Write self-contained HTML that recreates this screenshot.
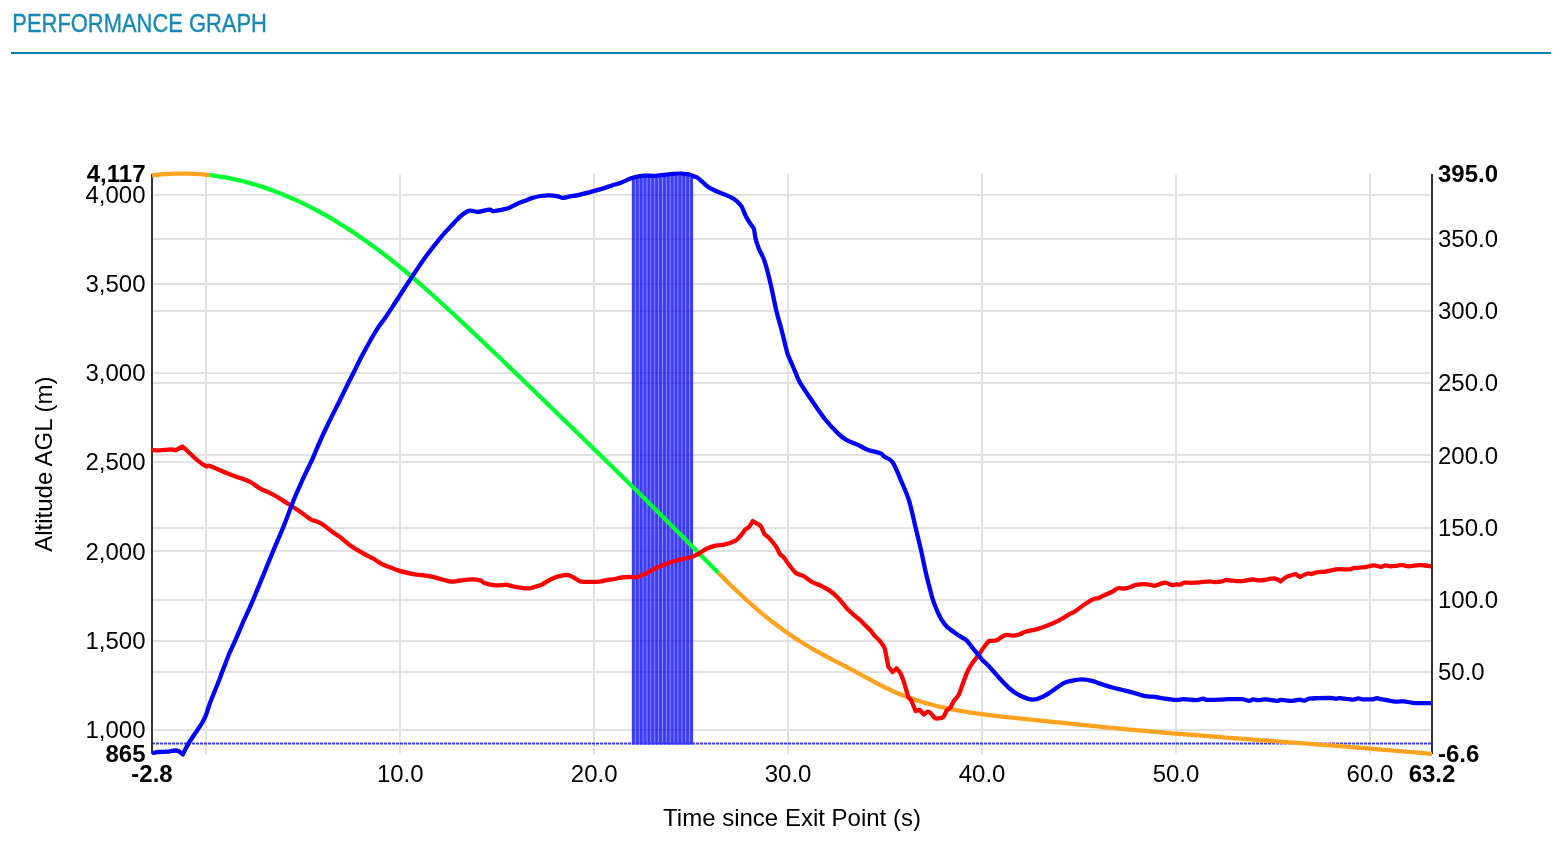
<!DOCTYPE html>
<html><head><meta charset="utf-8"><title>Performance Graph</title>
<style>
html,body{margin:0;padding:0;background:#fff;}
body{width:1566px;height:846px;overflow:hidden;position:relative;font-family:"Liberation Sans",sans-serif;}
svg{position:absolute;left:0;top:0;will-change:transform;}
text{font-family:"Liberation Sans",sans-serif;}
</style></head><body>
<svg width="1566" height="846" viewBox="0 0 1566 846">

<text x="12.3" y="31.7" font-size="25" fill="#1889b4" stroke="#1889b4" stroke-width="0.35" textLength="254.6" lengthAdjust="spacingAndGlyphs">PERFORMANCE GRAPH</text>
<rect x="11" y="52" width="1540" height="2" fill="#0a80ac"/>
<rect x="153" y="194" width="1279" height="2" fill="#e2e2e2"/>
<rect x="153" y="283" width="1279" height="2" fill="#e2e2e2"/>
<rect x="153" y="372" width="1279" height="2" fill="#e2e2e2"/>
<rect x="153" y="461" width="1279" height="2" fill="#e2e2e2"/>
<rect x="153" y="550" width="1279" height="2" fill="#e2e2e2"/>
<rect x="153" y="640" width="1279" height="2" fill="#e2e2e2"/>
<rect x="153" y="729" width="1279" height="2" fill="#e2e2e2"/>
<rect x="152" y="238" width="1280" height="2" fill="#e2e2e2"/>
<rect x="152" y="310" width="1280" height="2" fill="#e2e2e2"/>
<rect x="152" y="382" width="1280" height="2" fill="#e2e2e2"/>
<rect x="152" y="454" width="1280" height="2" fill="#e2e2e2"/>
<rect x="152" y="527" width="1280" height="2" fill="#e2e2e2"/>
<rect x="152" y="599" width="1280" height="2" fill="#e2e2e2"/>
<rect x="152" y="671" width="1280" height="2" fill="#e2e2e2"/>
<rect x="205" y="174" width="2" height="580" fill="#e2e2e2"/>
<rect x="399" y="174" width="2" height="580" fill="#e2e2e2"/>
<rect x="593" y="174" width="2" height="580" fill="#e2e2e2"/>
<rect x="787" y="174" width="2" height="580" fill="#e2e2e2"/>
<rect x="981" y="174" width="2" height="580" fill="#e2e2e2"/>
<rect x="1175" y="174" width="2" height="580" fill="#e2e2e2"/>
<rect x="1369" y="174" width="2" height="580" fill="#e2e2e2"/>
<rect x="631.85" y="176" width="61.2" height="568.5" fill="#0000ff" fill-opacity="0.41"/>
<rect x="631.85" y="176" width="3" height="568.5" fill="#0000ff" fill-opacity="0.6"/>
<rect x="635.73" y="176" width="3" height="568.5" fill="#0000ff" fill-opacity="0.6"/>
<rect x="639.61" y="176" width="3" height="568.5" fill="#0000ff" fill-opacity="0.6"/>
<rect x="643.49" y="176" width="3" height="568.5" fill="#0000ff" fill-opacity="0.6"/>
<rect x="647.37" y="176" width="3" height="568.5" fill="#0000ff" fill-opacity="0.6"/>
<rect x="651.25" y="176" width="3" height="568.5" fill="#0000ff" fill-opacity="0.6"/>
<rect x="655.13" y="176" width="3" height="568.5" fill="#0000ff" fill-opacity="0.6"/>
<rect x="659.01" y="176" width="3" height="568.5" fill="#0000ff" fill-opacity="0.6"/>
<rect x="662.89" y="176" width="3" height="568.5" fill="#0000ff" fill-opacity="0.6"/>
<rect x="666.77" y="176" width="3" height="568.5" fill="#0000ff" fill-opacity="0.6"/>
<rect x="670.65" y="176" width="3" height="568.5" fill="#0000ff" fill-opacity="0.6"/>
<rect x="674.53" y="176" width="3" height="568.5" fill="#0000ff" fill-opacity="0.6"/>
<rect x="678.41" y="176" width="3" height="568.5" fill="#0000ff" fill-opacity="0.6"/>
<rect x="682.29" y="176" width="3" height="568.5" fill="#0000ff" fill-opacity="0.6"/>
<rect x="686.17" y="176" width="3" height="568.5" fill="#0000ff" fill-opacity="0.6"/>
<rect x="690.05" y="176" width="3" height="568.5" fill="#0000ff" fill-opacity="0.6"/>
<line x1="152" y1="743.6" x2="1432" y2="743.6" stroke="#3a3aff" stroke-width="2" stroke-dasharray="3 1"/>
<rect x="151" y="174" width="2" height="580" fill="#333"/>
<rect x="1431" y="174" width="2" height="580" fill="#333"/>
<path d="M152,175.44 C153,175.32 156,174.95 158,174.75 C160,174.55 162,174.36 164,174.21 C166,174.06 168,173.93 170,173.83 C172,173.73 174,173.65 176,173.6 C178,173.55 180,173.53 182,173.53 C184,173.53 186,173.56 188,173.61 C190,173.66 192,173.74 194,173.84 C196,173.94 198,174.07 200,174.22 C202,174.37 204.37,174.59 206,174.75 C207.63,174.91 209.17,175.11 209.8,175.18" fill="none" stroke="#ffa21f" stroke-width="4.3" stroke-linejoin="round"/>
<path d="M209.8,175.18 C210.17,175.22 210.63,175.25 212,175.43 C213.37,175.61 216,175.96 218,176.26 C220,176.56 222,176.88 224,177.23 C226,177.58 228,177.95 230,178.35 C232,178.75 234,179.17 236,179.62 C238,180.07 240,180.53 242,181.03 C244,181.53 246,182.05 248,182.59 C250,183.13 252,183.7 254,184.29 C256,184.88 258,185.49 260,186.13 C262,186.77 264,187.43 266,188.11 C268,188.79 270,189.5 272,190.23 C274,190.96 276,191.71 278,192.49 C280,193.27 282,194.07 284,194.89 C286,195.71 288,196.56 290,197.43 C292,198.3 294,199.19 296,200.1 C298,201.01 300,201.95 302,202.91 C304,203.87 306,204.85 308,205.85 C310,206.85 312,207.88 314,208.93 C316,209.98 318,211.05 320,212.14 C322,213.23 324,214.34 326,215.48 C328,216.62 330,217.78 332,218.96 C334,220.14 336,221.34 338,222.56 C340,223.78 342,225.02 344,226.29 C346,227.56 348,228.84 350,230.15 C352,231.46 354,232.78 356,234.13 C358,235.48 360,236.84 362,238.23 C364,239.62 366,241.02 368,242.45 C370,243.88 372,245.32 374,246.79 C376,248.26 378,249.74 380,251.25 C382,252.76 384,254.29 386,255.83 C388,257.37 390,258.93 392,260.51 C394,262.09 396,263.69 398,265.31 C400,266.93 402,268.57 404,270.22 C406,271.88 408,273.55 410,275.24 C412,276.93 414,278.64 416,280.37 C418,282.1 420,283.83 422,285.59 C424,287.34 426,289.12 428,290.9 C430,292.68 432,294.48 434,296.28 C436,298.08 438,299.9 440,301.72 C442,303.54 444,305.38 446,307.22 C448,309.06 450,310.91 452,312.76 C454,314.61 456,316.47 458,318.33 C460,320.19 462,322.06 464,323.93 C466,325.8 468,327.68 470,329.56 C472,331.44 474,333.32 476,335.21 C478,337.1 480,338.99 482,340.89 C484,342.79 486,344.68 488,346.59 C490,348.5 492,350.41 494,352.32 C496,354.23 498,356.14 500,358.06 C502,359.98 504,361.89 506,363.81 C508,365.73 510,367.65 512,369.58 C514,371.51 516,373.44 518,375.37 C520,377.3 522,379.23 524,381.16 C526,383.09 528,385.02 530,386.96 C532,388.89 534,390.83 536,392.77 C538,394.71 540,396.64 542,398.58 C544,400.52 546,402.46 548,404.4 C550,406.34 552,408.27 554,410.21 C556,412.15 558,414.08 560,416.02 C562,417.96 564,419.9 566,421.84 C568,423.78 570,425.71 572,427.65 C574,429.59 576,431.53 578,433.47 C580,435.41 582,437.36 584,439.3 C586,441.24 588,443.19 590,445.13 C592,447.07 594,449.01 596,450.96 C598,452.9 600,454.85 602,456.8 C604,458.75 606,460.71 608,462.66 C610,464.61 612,466.56 614,468.52 C616,470.47 618,472.43 620,474.39 C622,476.35 624,478.31 626,480.28 C628,482.25 630,484.21 632,486.18 C634,488.15 636,490.12 638,492.09 C640,494.06 642,496.04 644,498.02 C646,500 648,501.98 650,503.97 C652,505.96 654,507.95 656,509.94 C658,511.93 660,513.92 662,515.92 C664,517.92 666,519.92 668,521.93 C670,523.94 672,525.95 674,527.96 C676,529.97 678,531.99 680,534.01 C682,536.03 684,538.05 686,540.08 C688,542.11 690,544.14 692,546.18 C694,548.22 696,550.26 698,552.3 C700,554.34 702,556.38 704,558.42 C706,560.46 708,562.5 710,564.52 C712,566.54 714.58,569.15 716,570.57 C717.42,571.99 718.08,572.65 718.5,573.07" fill="none" stroke="#00ff33" stroke-width="4.3" stroke-linejoin="round"/>
<path d="M718.5,573.07 C719.08,573.65 720.42,574.99 722,576.56 C723.58,578.13 726,580.52 728,582.47 C730,584.42 732,586.37 734,588.28 C736,590.19 738,592.09 740,593.96 C742,595.83 744,597.68 746,599.5 C748,601.32 750,603.12 752,604.88 C754,606.64 756,608.37 758,610.07 C760,611.77 762,613.44 764,615.08 C766,616.72 768,618.32 770,619.9 C772,621.48 774,623.02 776,624.54 C778,626.06 780,627.54 782,629 C784,630.46 786,631.88 788,633.28 C790,634.67 792,636.03 794,637.37 C796,638.71 798,640.01 800,641.29 C802,642.57 804,643.81 806,645.03 C808,646.25 810,647.43 812,648.59 C814,649.75 816,650.88 818,651.99 C820,653.1 822,654.19 824,655.26 C826,656.33 828,657.38 830,658.43 C832,659.48 834,660.51 836,661.54 C838,662.57 840,663.6 842,664.63 C844,665.66 846,666.69 848,667.73 C850,668.77 852,669.82 854,670.89 C856,671.96 858,673.04 860,674.13 C862,675.22 864,676.33 866,677.43 C868,678.53 870,679.63 872,680.71 C874,681.79 876,682.87 878,683.91 C880,684.95 882,685.98 884,686.96 C886,687.94 888,688.88 890,689.8 C892,690.72 894,691.61 896,692.46 C898,693.32 900,694.13 902,694.93 C904,695.72 906,696.49 908,697.23 C910,697.97 912,698.67 914,699.35 C916,700.03 918,700.69 920,701.32 C922,701.95 924,702.55 926,703.13 C928,703.71 930,704.26 932,704.79 C934,705.32 936,705.82 938,706.31 C940,706.8 942,707.26 944,707.71 C946,708.16 948,708.57 950,708.98 C952,709.39 954,709.78 956,710.15 C958,710.52 960,710.88 962,711.22 C964,711.56 966,711.89 968,712.21 C970,712.53 972,712.82 974,713.11 C976,713.4 978,713.68 980,713.95 C982,714.22 984,714.47 986,714.72 C988,714.97 990,715.21 992,715.45 C994,715.69 996,715.91 998,716.14 C1000,716.37 1002,716.58 1004,716.8 C1006,717.02 1008,717.24 1010,717.45 C1012,717.66 1014,717.87 1016,718.08 C1018,718.29 1020,718.5 1022,718.71 C1024,718.92 1026,719.13 1028,719.34 C1030,719.55 1032,719.75 1034,719.96 C1036,720.17 1038,720.37 1040,720.57 C1042,720.78 1044,720.99 1046,721.19 C1048,721.39 1050,721.6 1052,721.8 C1054,722 1056,722.2 1058,722.41 C1060,722.62 1062,722.82 1064,723.03 C1066,723.24 1068,723.44 1070,723.64 C1072,723.84 1074,724.04 1076,724.25 C1078,724.46 1080,724.66 1082,724.87 C1084,725.08 1086,725.28 1088,725.48 C1090,725.68 1092,725.89 1094,726.09 C1096,726.29 1098,726.49 1100,726.69 C1102,726.89 1104,727.09 1106,727.29 C1108,727.49 1110,727.69 1112,727.88 C1114,728.07 1116,728.26 1118,728.45 C1120,728.64 1122,728.83 1124,729.02 C1126,729.21 1128,729.39 1130,729.58 C1132,729.77 1134,729.95 1136,730.13 C1138,730.31 1140,730.5 1142,730.68 C1144,730.86 1146,731.03 1148,731.21 C1150,731.39 1152,731.57 1154,731.74 C1156,731.91 1158,732.08 1160,732.25 C1162,732.42 1164,732.6 1166,732.77 C1168,732.94 1170,733.1 1172,733.27 C1174,733.44 1176,733.61 1178,733.77 C1180,733.93 1182,734.1 1184,734.26 C1186,734.42 1188,734.59 1190,734.75 C1192,734.91 1194,735.07 1196,735.23 C1198,735.39 1200,735.55 1202,735.71 C1204,735.87 1206,736.02 1208,736.18 C1210,736.34 1212,736.5 1214,736.65 C1216,736.8 1218,736.96 1220,737.11 C1222,737.26 1224,737.42 1226,737.57 C1228,737.72 1230,737.88 1232,738.03 C1234,738.18 1236,738.34 1238,738.49 C1240,738.64 1242,738.79 1244,738.94 C1246,739.09 1248,739.24 1250,739.39 C1252,739.54 1254,739.69 1256,739.84 C1258,739.99 1260,740.14 1262,740.29 C1264,740.44 1266,740.58 1268,740.73 C1270,740.88 1272,741.03 1274,741.18 C1276,741.33 1278,741.47 1280,741.62 C1282,741.77 1284,741.92 1286,742.07 C1288,742.22 1290,742.37 1292,742.52 C1294,742.67 1296,742.82 1298,742.97 C1300,743.12 1302,743.26 1304,743.41 C1306,743.56 1308,743.72 1310,743.87 C1312,744.02 1314,744.17 1316,744.32 C1318,744.47 1320,744.62 1322,744.77 C1324,744.92 1326,745.08 1328,745.23 C1330,745.38 1332,745.54 1334,745.69 C1336,745.85 1338,746 1340,746.16 C1342,746.32 1344,746.47 1346,746.63 C1348,746.79 1350,746.94 1352,747.1 C1354,747.26 1356,747.41 1358,747.57 C1360,747.73 1362,747.9 1364,748.06 C1366,748.22 1368,748.38 1370,748.54 C1372,748.7 1374,748.87 1376,749.04 C1378,749.21 1380,749.37 1382,749.54 C1384,749.71 1386,749.87 1388,750.04 C1390,750.21 1392,750.38 1394,750.55 C1396,750.72 1398,750.89 1400,751.07 C1402,751.25 1404,751.42 1406,751.6 C1408,751.78 1410,751.95 1412,752.13 C1414,752.31 1416,752.5 1418,752.68 C1420,752.86 1422,753.05 1424,753.23 C1426,753.41 1428.67,753.66 1430,753.79 C1431.33,753.91 1431.67,753.95 1432,753.98" fill="none" stroke="#ffa21f" stroke-width="4.3" stroke-linejoin="round"/>
<path d="M151.3,450 C152.68,450.05 156.3,450.4 159.6,450.3 C162.9,450.2 168.45,449.4 171.1,449.4 C173.75,449.4 175.5,450.3 175.5,450.3 C175.5,450.3 182.6,446.5 182.6,446.5 C182.6,446.5 194.57,457.9 198.5,461.2 C202.43,464.5 204.28,465.5 206.2,466.3 C208.12,467.1 206.6,464.88 210,466 C213.4,467.12 221.7,471.03 226.6,473 C231.5,474.97 235.5,476.32 239.4,477.8 C243.3,479.28 246.45,480.07 250,481.9 C253.55,483.73 257.33,486.93 260.7,488.8 C264.07,490.67 267.05,491.52 270.2,493.1 C273.35,494.68 276.05,496.13 279.6,498.3 C283.15,500.47 287.95,503.78 291.5,506.1 C295.05,508.42 298.6,510.62 300.9,512.2 C303.2,513.78 303.5,514.32 305.3,515.6 C307.1,516.88 309.57,518.83 311.7,519.9 C313.83,520.97 315.97,521.03 318.1,522 C320.23,522.97 322.2,524.1 324.5,525.7 C326.8,527.3 329.25,529.65 331.9,531.6 C334.55,533.55 337.57,535.27 340.4,537.4 C343.23,539.53 345.88,542.18 348.9,544.4 C351.92,546.62 355.65,548.93 358.5,550.7 C361.35,552.47 363.52,553.67 366,555 C368.48,556.33 370.75,557.2 373.4,558.7 C376.05,560.2 378.88,562.48 381.9,564 C384.92,565.52 388.83,566.73 391.5,567.8 C394.17,568.87 395.42,569.6 397.9,570.4 C400.38,571.2 403.57,571.93 406.4,572.6 C409.23,573.27 412.25,573.97 414.9,574.4 C417.55,574.83 419.7,574.87 422.3,575.2 C424.9,575.53 427.72,575.83 430.5,576.4 C433.28,576.97 436.28,577.88 439,578.6 C441.72,579.32 444.65,580.2 446.8,580.7 C448.95,581.2 449.62,581.63 451.9,581.6 C454.18,581.57 457.15,580.87 460.5,580.5 C463.85,580.13 468.75,579.42 472,579.4 C475.25,579.38 477.83,579.77 480,580.4 C482.17,581.03 482.7,582.42 485,583.2 C487.3,583.98 490.97,584.77 493.8,585.1 C496.63,585.43 499.93,585.27 502,585.2 C504.07,585.13 504.4,584.52 506.2,584.7 C508,584.88 509.58,585.7 512.8,586.3 C516.02,586.9 522.47,588.02 525.5,588.3 C528.53,588.58 528.7,588.45 531,588 C533.3,587.55 537.05,586.43 539.3,585.6 C541.55,584.77 542.47,584.1 544.5,583 C546.53,581.9 549.18,580.1 551.5,579 C553.82,577.9 555.87,577.08 558.4,576.4 C560.93,575.72 564.65,574.97 566.7,574.9 C568.75,574.83 569.18,575.35 570.7,576 C572.22,576.65 574.08,577.87 575.8,578.8 C577.52,579.73 578.45,581.08 581,581.6 C583.55,582.12 587.72,581.95 591.1,581.9 C594.48,581.85 598.75,581.6 601.3,581.3 C603.85,581 604.18,580.48 606.4,580.1 C608.62,579.72 612.05,579.43 614.6,579 C617.15,578.57 619.32,577.83 621.7,577.5 C624.08,577.17 626.52,577.05 628.9,577 C631.28,576.95 633.78,577.53 636,577.2 C638.22,576.87 640.15,575.8 642.2,575 C644.25,574.2 646.43,573.35 648.3,572.4 C650.17,571.45 651.02,570.5 653.4,569.3 C655.78,568.1 659.7,566.38 662.6,565.2 C665.5,564.02 668.25,563.03 670.8,562.2 C673.35,561.37 675.18,560.9 677.9,560.2 C680.62,559.5 684.58,558.62 687.1,558 C689.62,557.38 691.33,557.08 693,556.5 C694.67,555.92 695.63,555.3 697.1,554.5 C698.57,553.7 700.22,552.65 701.8,551.7 C703.38,550.75 704.63,549.73 706.6,548.8 C708.57,547.87 711.25,546.7 713.6,546.1 C715.95,545.5 718.72,545.5 720.7,545.2 C722.68,544.9 723.52,544.85 725.5,544.3 C727.48,543.75 730.63,542.73 732.6,541.9 C734.57,541.07 735.73,540.62 737.3,539.3 C738.87,537.98 740.62,535.68 742,534 C743.38,532.32 744.42,530.38 745.6,529.2 C746.78,528.02 747.92,528.27 749.1,526.9 C750.28,525.53 752.7,521 752.7,521 C752.7,521 756.03,523.02 757.4,523.9 C758.77,524.78 759.72,524.62 760.9,526.3 C762.08,527.98 763.12,532.03 764.5,534 C765.88,535.97 767.23,535.93 769.2,538.1 C771.17,540.27 774.52,544.33 776.3,547 C778.08,549.67 778.72,552.43 779.9,554.1 C781.08,555.77 782.03,555.43 783.4,557 C784.77,558.57 786.13,560.93 788.1,563.5 C790.07,566.07 793.22,570.52 795.2,572.4 C797.18,574.28 798.62,574.2 800,574.8 C801.38,575.4 801.33,574.72 803.5,576 C805.67,577.28 810.43,581.03 813,582.5 C815.57,583.97 816.07,583.4 818.9,584.8 C821.73,586.2 826.78,588.7 830,590.9 C833.22,593.1 835.48,595.2 838.2,598 C840.92,600.8 843.7,604.9 846.3,607.7 C848.9,610.5 851.53,612.77 853.8,614.8 C856.07,616.83 858.03,618.2 859.9,619.9 C861.77,621.6 863.18,623.18 865,625 C866.82,626.82 869.18,628.98 870.8,630.8 C872.42,632.62 873.25,634.27 874.7,635.9 C876.15,637.53 878.12,639.02 879.5,640.6 C880.88,642.18 882.12,644.02 883,645.4 C883.88,646.78 884.22,646.93 884.8,648.9 C885.38,650.87 885.92,654.25 886.5,657.2 C887.08,660.15 888.3,666.6 888.3,666.6 C888.3,666.6 892.5,672 892.5,672 C892.5,672 896.6,668.4 896.6,668.4 C896.6,668.4 900.1,672.5 900.1,672.5 C900.1,672.5 902.12,676.83 903.1,679.6 C904.08,682.37 905.12,686.23 906,689.1 C906.88,691.97 907.5,694.83 908.4,696.8 C909.3,698.77 910.22,698.53 911.4,700.9 C912.58,703.27 915.5,711 915.5,711 C915.5,711 919.6,709.8 919.6,709.8 C919.6,709.8 923.8,714.5 923.8,714.5 C923.8,714.5 927.9,711.5 927.9,711.5 C927.9,711.5 929.72,712.22 930.9,713.3 C932.08,714.38 933.73,717.15 935,718 C936.27,718.85 937.12,718.58 938.5,718.4 C939.88,718.22 941.92,718.23 943.3,716.9 C944.68,715.57 945.62,711.98 946.8,710.4 C947.98,708.82 949.22,708.98 950.4,707.4 C951.58,705.82 952.53,702.97 953.9,700.9 C955.27,698.83 957.02,698.15 958.6,695 C960.18,691.85 961.82,686.13 963.4,682 C964.98,677.87 966.53,673.45 968.1,670.2 C969.67,666.95 971.03,665.07 972.8,662.5 C974.57,659.93 976.92,657.27 978.7,654.8 C980.48,652.33 981.92,649.87 983.5,647.7 C985.08,645.53 987.12,642.93 988.2,641.8 C989.28,640.67 988.58,641.17 990,640.9 C991.42,640.63 994.15,641.17 996.7,640.2 C999.25,639.23 1002.58,635.87 1005.3,635.1 C1008.02,634.33 1010.6,635.75 1013,635.6 C1015.4,635.45 1017.63,634.83 1019.7,634.2 C1021.77,633.57 1022.37,632.68 1025.4,631.8 C1028.43,630.92 1034.22,629.93 1037.9,628.9 C1041.58,627.87 1043.98,627.03 1047.5,625.6 C1051.02,624.17 1055.17,622.3 1059,620.3 C1062.83,618.3 1067.8,615.12 1070.5,613.6 C1073.2,612.08 1072.65,612.88 1075.2,611.2 C1077.75,609.52 1082.6,605.58 1085.8,603.5 C1089,601.42 1092.33,599.57 1094.4,598.7 C1096.47,597.83 1096.77,598.8 1098.2,598.3 C1099.63,597.8 1100.77,596.75 1103,595.7 C1105.23,594.65 1109.12,593.25 1111.6,592 C1114.08,590.75 1115.82,588.78 1117.9,588.2 C1119.98,587.62 1122.12,588.67 1124.1,588.5 C1126.08,588.33 1127.8,587.82 1129.8,587.2 C1131.8,586.58 1133.68,585.32 1136.1,584.8 C1138.52,584.28 1141.92,584.1 1144.3,584.1 C1146.68,584.1 1148.53,584.53 1150.4,584.8 C1152.27,585.07 1153.12,586.07 1155.5,585.7 C1157.88,585.33 1161.97,582.7 1164.7,582.6 C1167.43,582.5 1170.02,584.82 1171.9,585.1 C1173.78,585.38 1174.63,584.38 1176,584.3 C1177.37,584.22 1178.73,584.88 1180.1,584.6 C1181.47,584.32 1182.33,582.9 1184.2,582.6 C1186.07,582.3 1188.75,582.83 1191.3,582.8 C1193.85,582.77 1196.43,582.63 1199.5,582.4 C1202.57,582.17 1207.15,581.45 1209.7,581.4 C1212.25,581.35 1212.75,582.1 1214.8,582.1 C1216.85,582.1 1220.13,581.75 1222,581.4 C1223.87,581.05 1224.3,580.12 1226,580 C1227.7,579.88 1229.47,580.52 1232.2,580.7 C1234.93,580.88 1239,581.3 1242.4,581.1 C1245.8,580.9 1250.05,579.63 1252.6,579.5 C1255.15,579.37 1255.65,580.22 1257.7,580.3 C1259.75,580.38 1262.35,580.33 1264.9,580 C1267.45,579.67 1270.97,578.42 1273,578.3 C1275.03,578.18 1275.82,578.78 1277.1,579.3 C1278.38,579.82 1280.7,581.4 1280.7,581.4 C1280.7,581.4 1283.58,578.33 1286.1,577.1 C1288.62,575.87 1295.8,574 1295.8,574 C1295.8,574 1299.9,577.1 1299.9,577.1 C1299.9,577.1 1305.63,574.02 1307.6,573.5 C1309.57,572.98 1310.17,574.2 1311.7,574 C1313.23,573.8 1314.42,572.72 1316.8,572.3 C1319.18,571.88 1323.62,571.82 1326,571.5 C1328.38,571.18 1329.07,570.78 1331.1,570.4 C1333.13,570.02 1335.13,569.37 1338.2,569.2 C1341.27,569.03 1346.77,569.62 1349.5,569.4 C1352.23,569.18 1352.05,568.27 1354.6,567.9 C1357.15,567.53 1361.65,567.63 1364.8,567.2 C1367.95,566.77 1370.78,565.35 1373.5,565.3 C1376.22,565.25 1379.15,566.9 1381.1,566.9 C1383.05,566.9 1383.67,565.4 1385.2,565.3 C1386.73,565.2 1388.42,566.22 1390.3,566.3 C1392.18,566.38 1394.45,566 1396.5,565.8 C1398.55,565.6 1400.57,565.02 1402.6,565.1 C1404.63,565.18 1405.97,566.3 1408.7,566.3 C1411.43,566.3 1416.27,565.23 1419,565.1 C1421.73,564.97 1423.07,565.3 1425.1,565.5 C1427.13,565.7 1430.18,566.17 1431.2,566.3" fill="none" stroke="#ff0000" stroke-width="4.3" stroke-linejoin="round"/>
<path d="M152.1,753.3 C153.07,753.08 155.27,752.28 157.9,752 C160.53,751.72 165,751.85 167.9,751.6 C170.8,751.35 173.52,750.58 175.3,750.5 C177.08,750.42 178.6,751.1 178.6,751.1 C178.6,751.1 182.8,754.4 182.8,754.4 C182.8,754.4 186.12,747.43 188.6,743.3 C191.08,739.17 195.37,733.15 197.7,729.6 C200.03,726.05 201.22,724.43 202.6,722 C203.98,719.57 204.77,718.17 206,715 C207.23,711.83 208.5,707.08 210,703 C211.5,698.92 213.47,694.33 215,690.5 C216.53,686.67 218.03,683.03 219.2,680 C220.37,676.97 221.17,674.5 222,672.3 C222.83,670.1 223.02,669.85 224.2,666.8 C225.38,663.75 227.27,658.37 229.1,654 C230.93,649.63 233.42,644.62 235.2,640.6 C236.98,636.58 238.33,633.33 239.8,629.9 C241.27,626.47 241.8,624.97 244,620 C246.2,615.03 248.17,611.53 253,600.1 C257.83,588.67 268,563.43 273,551.4 C278,539.37 279.55,536.47 283,527.9 C286.45,519.33 290.53,507.82 293.7,500 C296.87,492.18 299.1,487.35 302,481 C304.9,474.65 309.12,466.12 311.1,461.9 C313.08,457.68 312.25,459.52 313.9,455.7 C315.55,451.88 318.48,444.62 321,439 C323.52,433.38 325.83,428.5 329,422 C332.17,415.5 336.8,406.47 340,400 C343.2,393.53 345.97,387.7 348.2,383.2 C350.43,378.7 351.03,377.7 353.4,373 C355.77,368.3 358.55,362.17 362.4,355 C366.25,347.83 372.73,336.17 376.5,330 C380.27,323.83 382.25,322 385,318 C387.75,314 389.83,310.83 393,306 C396.17,301.17 400.97,293.67 404,289 C407.03,284.33 407.62,283.33 411.2,278 C414.78,272.67 420.92,263.33 425.5,257 C430.08,250.67 435.23,244.32 438.7,240 C442.17,235.68 443.83,233.87 446.3,231.1 C448.77,228.33 450.93,226.05 453.5,223.4 C456.07,220.75 458.98,217.32 461.7,215.2 C464.42,213.08 467.08,211.25 469.8,210.7 C472.52,210.15 474.75,212.08 478,211.9 C481.25,211.72 486.75,209.72 489.3,209.6 C491.85,209.48 491.27,211.17 493.3,211.2 C495.33,211.23 498.93,210.32 501.5,209.8 C504.07,209.28 506.15,209.07 508.7,208.1 C511.25,207.13 513.92,205.28 516.8,204 C519.68,202.72 523.62,201.33 526,200.4 C528.38,199.47 528.72,199.13 531.1,198.4 C533.48,197.67 537.23,196.52 540.3,196 C543.37,195.48 546.6,195.25 549.5,195.3 C552.4,195.35 555.48,195.87 557.7,196.3 C559.92,196.73 560.75,197.9 562.8,197.9 C564.85,197.9 567.45,196.77 570,196.3 C572.55,195.83 574.77,195.8 578.1,195.1 C581.43,194.4 586.2,193.1 590,192.1 C593.8,191.1 597.28,190.18 600.9,189.1 C604.52,188.02 608.27,186.72 611.7,185.6 C615.13,184.48 617.88,183.75 621.5,182.4 C625.12,181.05 629.6,178.63 633.4,177.5 C637.2,176.37 640.68,175.87 644.3,175.6 C647.92,175.33 651.48,176.07 655.1,175.9 C658.72,175.73 662.02,174.97 666,174.6 C669.98,174.23 675.38,173.77 679,173.7 C682.62,173.63 685.17,173.75 687.7,174.2 C690.23,174.65 692.38,175.67 694.2,176.4 C696.02,177.13 696.43,176.97 698.6,178.6 C700.77,180.23 704.5,184.22 707.2,186.2 C709.9,188.18 711.72,189.05 714.8,190.5 C717.88,191.95 722.62,193.53 725.7,194.9 C728.78,196.27 731.13,197.35 733.3,198.7 C735.47,200.05 737.25,201.57 738.7,203 C740.15,204.43 740.73,204.95 742,207.3 C743.27,209.65 744.85,214.28 746.3,217.1 C747.75,219.92 749.43,222.22 750.7,224.2 C751.97,226.18 753.08,226.58 753.9,229 C754.72,231.42 754.75,235.37 755.6,238.7 C756.45,242.03 757.48,245.18 759,249 C760.52,252.82 762.77,255.78 764.7,261.6 C766.63,267.42 768.65,275.68 770.6,283.9 C772.55,292.12 774.57,303.22 776.4,310.9 C778.23,318.58 780,323.82 781.6,330 C783.2,336.18 784.93,343.83 786,348 C787.07,352.17 787.02,352.33 788,355 C788.98,357.67 790.6,360.97 791.9,364 C793.2,367.03 794.4,370.02 795.8,373.2 C797.2,376.38 797.48,378.33 800.3,383.1 C803.12,387.87 808.47,395.65 812.7,401.8 C816.93,407.95 821.45,414.7 825.7,420 C829.95,425.3 834.77,430.28 838.2,433.6 C841.63,436.92 843.13,438.08 846.3,439.9 C849.47,441.72 853.57,442.83 857.2,444.5 C860.83,446.17 864.25,448.45 868.1,449.9 C871.95,451.35 877.82,452.28 880.3,453.2 C882.78,454.12 882.32,454.82 883,455.4 C883.68,455.98 882.8,455.57 884.4,456.7 C886,457.83 889.88,458.35 892.6,462.2 C895.32,466.05 897.98,473.47 900.7,479.8 C903.42,486.13 906.4,492.17 908.9,500.2 C911.4,508.23 913.63,519.47 915.7,528 C917.77,536.53 919.62,543.98 921.3,551.4 C922.98,558.82 924.28,565.95 925.8,572.5 C927.32,579.05 929.2,586.1 930.4,590.7 C931.6,595.3 931.82,596.62 933,600.1 C934.18,603.58 936.1,608.38 937.5,611.6 C938.9,614.82 939.88,616.92 941.4,619.4 C942.92,621.88 944.43,624.33 946.6,626.5 C948.77,628.67 951.8,630.55 954.4,632.4 C957,634.25 960.13,636.23 962.2,637.6 C964.27,638.97 965.05,638.87 966.8,640.6 C968.55,642.33 970.17,644.85 972.7,648 C975.23,651.15 979.62,656.78 982,659.5 C984.38,662.22 984.98,662.22 987,664.3 C989.02,666.38 991.93,669.58 994.1,672 C996.27,674.42 997.32,675.97 1000,678.8 C1002.68,681.63 1006.8,686.18 1010.2,689 C1013.6,691.82 1016.65,693.92 1020.4,695.7 C1024.15,697.48 1028.95,699.53 1032.7,699.7 C1036.45,699.87 1039.83,698.02 1042.9,696.7 C1045.97,695.38 1047.7,694.02 1051.1,691.8 C1054.5,689.58 1059.9,685.23 1063.3,683.4 C1066.7,681.57 1068.43,681.48 1071.5,680.8 C1074.57,680.12 1078.28,679.3 1081.7,679.3 C1085.12,679.3 1088.58,679.95 1092,680.8 C1095.42,681.65 1098.8,683.28 1102.2,684.4 C1105.6,685.52 1109,686.57 1112.4,687.5 C1115.8,688.43 1119.2,689.15 1122.6,690 C1126,690.85 1129.05,691.57 1132.8,692.6 C1136.55,693.63 1141.68,695.52 1145.1,696.2 C1148.52,696.88 1150.78,696.42 1153.3,696.7 C1155.82,696.98 1156.5,697.37 1160.2,697.9 C1163.9,698.43 1171.58,699.68 1175.5,699.9 C1179.42,700.12 1180.28,699.15 1183.7,699.2 C1187.12,699.25 1192.77,700.3 1196,700.2 C1199.23,700.1 1201.23,698.65 1203.1,698.6 C1204.97,698.55 1204.13,699.73 1207.2,699.9 C1210.27,700.07 1218.08,699.72 1221.5,699.6 C1224.92,699.48 1224.28,699.27 1227.7,699.2 C1231.12,699.13 1238.43,698.92 1242,699.2 C1245.57,699.48 1247.23,700.87 1249.1,700.9 C1250.97,700.93 1251.67,699.52 1253.2,699.4 C1254.73,699.28 1256.25,700.2 1258.3,700.2 C1260.35,700.2 1262.43,699.28 1265.5,699.4 C1268.57,699.52 1274.15,700.82 1276.7,700.9 C1279.25,700.98 1278.25,699.9 1280.8,699.9 C1283.35,699.9 1288.87,700.95 1292,700.9 C1295.13,700.85 1297.53,699.65 1299.6,699.6 C1301.67,699.55 1302.8,700.75 1304.4,700.6 C1306,700.45 1306.82,699.1 1309.2,698.7 C1311.58,698.3 1315.2,698.32 1318.7,698.2 C1322.2,698.08 1327.32,697.92 1330.2,698 C1333.08,698.08 1334.4,698.67 1336,698.7 C1337.6,698.73 1336.93,698.05 1339.8,698.2 C1342.67,698.35 1350.17,699.57 1353.2,699.6 C1356.23,699.63 1356.4,698.45 1358,698.4 C1359.6,698.35 1360.4,699.15 1362.8,699.3 C1365.2,699.45 1370,699.48 1372.4,699.3 C1374.8,699.12 1375.77,698.22 1377.2,698.2 C1378.63,698.18 1377.97,698.63 1381,699.2 C1384.03,699.77 1391.57,701.25 1395.4,701.6 C1399.23,701.95 1401.13,701.1 1404,701.3 C1406.87,701.5 1409.25,702.48 1412.6,702.8 C1415.95,703.12 1420.9,703.17 1424.1,703.2 C1427.3,703.23 1430.52,703.03 1431.8,703" fill="none" stroke="#0000ff" stroke-width="4.3" stroke-linejoin="round"/>
<text x="145.5" y="181.9" font-size="24" text-anchor="end" font-weight="bold" fill="#000">4,117</text>
<text x="145.5" y="202.85" font-size="24" text-anchor="end" fill="#000">4,000</text>
<text x="145.5" y="292.02" font-size="24" text-anchor="end" fill="#000">3,500</text>
<text x="145.5" y="381.2" font-size="24" text-anchor="end" fill="#000">3,000</text>
<text x="145.5" y="470.38" font-size="24" text-anchor="end" fill="#000">2,500</text>
<text x="145.5" y="559.55" font-size="24" text-anchor="end" fill="#000">2,000</text>
<text x="145.5" y="648.73" font-size="24" text-anchor="end" fill="#000">1,500</text>
<text x="145.5" y="737.9" font-size="24" text-anchor="end" fill="#000">1,000</text>
<text x="145.5" y="761.9" font-size="24" text-anchor="end" font-weight="bold" fill="#000">865</text>
<text x="1438" y="181.9" font-size="24" text-anchor="start" font-weight="bold" fill="#000">395.0</text>
<text x="1438" y="246.85" font-size="24" text-anchor="start" fill="#000">350.0</text>
<text x="1438" y="319.07" font-size="24" text-anchor="start" fill="#000">300.0</text>
<text x="1438" y="391.29" font-size="24" text-anchor="start" fill="#000">250.0</text>
<text x="1438" y="463.5" font-size="24" text-anchor="start" fill="#000">200.0</text>
<text x="1438" y="535.72" font-size="24" text-anchor="start" fill="#000">150.0</text>
<text x="1438" y="607.94" font-size="24" text-anchor="start" fill="#000">100.0</text>
<text x="1438" y="680.15" font-size="24" text-anchor="start" fill="#000">50.0</text>
<text x="1438" y="761.9" font-size="24" text-anchor="start" font-weight="bold" fill="#000">-6.6</text>
<text x="152" y="782" font-size="24" text-anchor="middle" font-weight="bold" fill="#000">-2.8</text>
<text x="400.24" y="782" font-size="24" text-anchor="middle" fill="#000">10.0</text>
<text x="594.18" y="782" font-size="24" text-anchor="middle" fill="#000">20.0</text>
<text x="788.12" y="782" font-size="24" text-anchor="middle" fill="#000">30.0</text>
<text x="982.06" y="782" font-size="24" text-anchor="middle" fill="#000">40.0</text>
<text x="1176" y="782" font-size="24" text-anchor="middle" fill="#000">50.0</text>
<text x="1369.94" y="782" font-size="24" text-anchor="middle" fill="#000">60.0</text>
<text x="1432" y="782" font-size="24" text-anchor="middle" font-weight="bold" fill="#000">63.2</text>
<text x="792" y="825.8" font-size="24" text-anchor="middle" fill="#000">Time since Exit Point (s)</text>
<text transform="translate(52.3,464.2) rotate(-90)" font-size="24" text-anchor="middle" fill="#000">Altitude AGL (m)</text>
</svg>
</body></html>
